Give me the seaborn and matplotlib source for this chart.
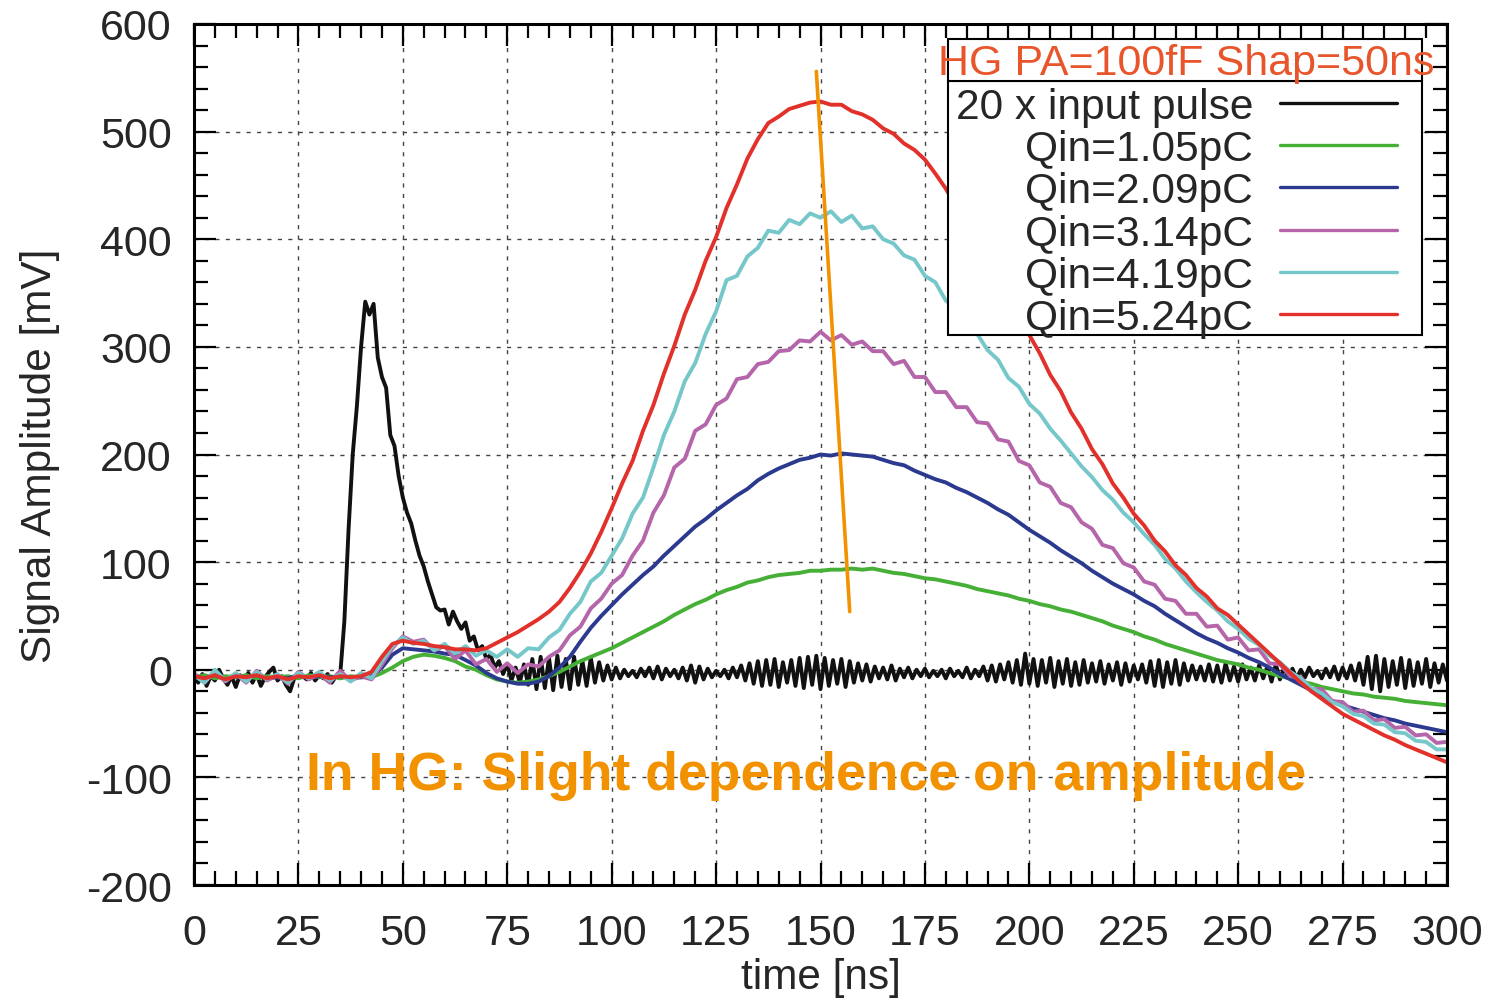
import numpy as np
import pandas as pd
import matplotlib
matplotlib.use("Agg")
import matplotlib.pyplot as plt
import seaborn as sns
from matplotlib.ticker import MultipleLocator
from matplotlib.patches import Rectangle

# ---------------- data ----------------
series_labels = ["20 x input pulse", "Qin=1.05pC", "Qin=2.09pC",
                 "Qin=3.14pC", "Qin=4.19pC", "Qin=5.24pC"]
series_colors = ["#111111", "#46B036", "#2B3A8F", "#B565A9", "#76C7CA", "#E2302A"]
key_title = "HG PA=100fF Shap=50ns"
note_text = "In HG: Slight dependence on amplitude"

# input pulse (x20), sampled every 1 ns from 0 to 300 ns
input_pulse_x20 = [
    -5, -12, -4, -15, -6, -10, 0, -8, -14, -6,
    -16, -5, -9, -3, -12, -4, -15, -7, -2, 2,
    -10, -6, -14, -20, -8, -4, -6, -9, -3, -10,
    -5, -8, -4, -12, -6, -5, 45, 130, 200, 245,
    300, 342, 330, 340, 290, 272, 262, 218, 208, 180,
    160, 146, 136, 120, 106, 96, 82, 70, 58, 55,
    56, 42, 54, 45, 38, 44, 27, 31, 18, 22,
    10, 14, 2, 8, -4, 5, -10, 2, -12, 5,
    -14, 10, -18, 12, -17, 11, -19, 13, -16, 10,
    -18, 12, -14, 8, -15, 11, -12, 7, -10, 4,
    -9, 2, -8, 0, -6, -1, -7, 1, -6, 2,
    -8, 3, -9, 1, -6, 0, -8, 2, -10, 4,
    -12, 3, -9, 1, -7, -1, -6, 0, -8, 2,
    -7, 4, -10, 6, -13, 8, -15, 9, -14, 10,
    -16, 7, -12, 9, -15, 11, -17, 12, -14, 13,
    -18, 11, -15, 9, -13, 10, -16, 8, -12, 6,
    -10, 5, -11, 3, -8, 2, -9, 4, -10, 1,
    -7, 2, -8, 0, -6, 1, -7, -1, -6, 0,
    -8, 1, -6, -1, -7, 2, -8, 0, -6, 3,
    -10, 4, -11, 5, -9, 7, -12, 9, -14, 15,
    -13, 10, -15, 9, -12, 11, -16, 8, -13, 10,
    -15, 7, -14, 9, -12, 6, -11, 8, -13, 5,
    -10, 7, -14, 6, -11, 4, -9, 5, -12, 8,
    -15, 9, -16, 7, -13, 9, -14, 6, -10, 4,
    -9, 3, -10, 5, -11, 4, -12, 6, -10, 3,
    -11, 5, -9, 2, -10, 4, -8, 3, -11, 5,
    -9, 2, -7, 1, -8, 0, -7, 2, -6, -1,
    -8, 1, -7, 3, -9, 2, -8, 4, -10, 6,
    -14, 12, -18, 13, -20, 10, -16, 8, -14, 11,
    -17, 9, -15, 7, -13, 10, -16, 6, -12, 5,
    -10,
]

# shaped outputs, sampled every 2.5 ns from 0 to 300 ns
qin_1p05 = [
    -7, -5, -8, -6, -7, -5, -8, -6, -7, -6,
    -8, -5, -7, -6, -8, -6, -7, -7, -3, 2,
    8, 12, 14, 13, 11, 8, 3, 0, -5, -9,
    -11, -12, -11, -9, -6, -2, 3, 8, 12, 16,
    20, 25, 30, 35, 40, 45, 51, 56, 61, 65,
    70, 74, 77, 81, 83, 86, 88, 89, 90, 92,
    92, 93, 93, 94, 93, 94, 92, 90, 89, 87,
    85, 84, 82, 80, 78, 75, 73, 71, 69, 66,
    64, 61, 59, 56, 54, 51, 48, 45, 41, 38,
    35, 31, 28, 24, 21, 18, 15, 12, 9, 7,
    5, 2, 0, -3, -6, -8, -11, -13, -16, -18,
    -20, -22, -23, -25, -26, -27, -29, -30, -31, -32,
    -33,
]
qin_2p09 = [
    -6, -8, -5, -9, -6, -7, -5, -8, -7, -8,
    -5, -8, -6, -7, -6, -8, -7, -6, 2, 14,
    20, 19, 18, 17, 15, 14, 9, 4, -3, -8,
    -11, -13, -13, -11, -6, 2, 12, 26, 39, 50,
    60, 70, 79, 88, 96, 106, 115, 124, 133, 140,
    148, 155, 162, 168, 176, 182, 187, 191, 195, 197,
    200, 199, 201, 200, 199, 198, 195, 192, 190, 185,
    181, 177, 174, 169, 165, 160, 155, 149, 144, 137,
    130, 124, 118, 111, 105, 99, 92, 86, 80, 75,
    70, 64, 59, 52, 46, 40, 34, 29, 25, 20,
    16, 11, 7, 2, -4, -9, -14, -19, -24, -29,
    -33, -36, -39, -42, -45, -47, -50, -52, -54, -56,
    -58,
]
qin_3p14 = [
    -3, -12, -2, -11, -4, -12, -1, -10, -5, -13,
    -2, -9, -4, -12, -1, -10, -6, -9, 5, 20,
    31, 26, 28, 18, 22, 10, 18, 5, 10, -2,
    6, -3, 5, 3, 12, 18, 32, 40, 57, 66,
    80, 88, 106, 120, 146, 162, 188, 196, 222, 228,
    246, 252, 270, 272, 284, 286, 296, 297, 306, 305,
    314, 306, 311, 302, 305, 296, 296, 284, 287, 272,
    272, 258, 258, 244, 244, 230, 229, 214, 212, 194,
    190, 174, 170, 155, 151, 137, 131, 116, 113, 99,
    95, 82, 79, 66, 64, 52, 52, 40, 41, 28,
    30, 18, 19, 6, 5, -6, -7, -18, -18, -29,
    -30, -39, -38, -47, -46, -54, -53, -61, -60, -68,
    -67,
]
qin_4p19 = [
    -5, -12, 0, -10, -3, -11, -2, -9, -4, -12,
    -3, -8, -2, -10, -4, -11, -3, -8, 8, 22,
    30, 24, 27, 18, 24, 15, 22, 13, 18, 12,
    19, 12, 20, 19, 30, 37, 52, 63, 82, 90,
    106, 122, 145, 160, 188, 218, 240, 268, 285, 312,
    333, 362, 366, 384, 392, 408, 406, 418, 414, 424,
    420, 426, 416, 422, 410, 412, 400, 396, 385, 381,
    366, 360, 343, 336, 320, 312, 297, 288, 271, 263,
    247, 238, 224, 213, 201, 189, 179, 167, 158, 146,
    137, 126, 116, 103, 94, 82, 72, 63, 55, 45,
    38, 29, 23, 13, 7, -2, -8, -17, -22, -30,
    -34, -41, -43, -50, -51, -58, -59, -66, -67, -74,
    -74,
]
qin_5p24 = [
    -6, -8, -5, -9, -6, -7, -5, -8, -6, -9,
    -6, -7, -5, -8, -6, -7, -6, -2, 12, 24,
    27, 25, 24, 22, 21, 19, 19, 18, 20, 25,
    30, 35, 41, 47, 54, 63, 76, 91, 108, 128,
    150, 173, 194, 222, 246, 275, 301, 330, 353, 380,
    402, 429, 451, 475, 493, 508, 514, 521, 524, 527,
    528, 525, 525, 519, 516, 511, 503, 498, 489, 483,
    474, 461, 447, 430, 416, 399, 386, 367, 351, 330,
    311, 294, 274, 259, 239, 224, 205, 191, 173, 160,
    145, 134, 120, 110, 97, 88, 76, 68, 57, 51,
    42, 33, 24, 15, 6, -3, -12, -20, -27, -34,
    -41, -46, -51, -56, -61, -65, -70, -74, -78, -82,
    -86,
]

# orange guide line through the peak positions
peak_guide_time = [149, 157]
peak_guide_amp = [556, 54]

# ---------------- build table ----------------
time_pulse = np.arange(0, 301, 1.0)
time_shaped = np.arange(0, 300.1, 2.5)
shaped = [qin_1p05, qin_2p09, qin_3p14, qin_4p19, qin_5p24]
assert len(input_pulse_x20) == len(time_pulse)
for s in shaped:
    assert len(s) == len(time_shaped), len(s)

frames = [pd.DataFrame({"time": time_pulse, "amp": input_pulse_x20,
                        "series": series_labels[0]})]
for lab, vals in zip(series_labels[1:], shaped):
    frames.append(pd.DataFrame({"time": time_shaped, "amp": vals, "series": lab}))
df = pd.concat(frames, ignore_index=True)

# ---------------- style ----------------
sns.set_style("ticks")
plt.rcParams["font.family"] = ["Liberation Sans", "DejaVu Sans"]
plt.rcParams["axes.unicode_minus"] = False

fig = plt.figure(figsize=(14.95, 10.03), dpi=100)
ax = fig.add_axes([194 / 1495, 117 / 1003, 1253 / 1495, 861 / 1003])

sns.lineplot(data=df, x="time", y="amp", hue="series", hue_order=series_labels,
             palette=dict(zip(series_labels, series_colors)), estimator=None,
             sort=False, linewidth=2.8, legend=False, ax=ax)
sns.lineplot(x=peak_guide_time, y=peak_guide_amp, color="#F39200",
             linewidth=2.6, estimator=None, sort=False, ax=ax)

ax.set_xlim(0, 300)
ax.set_ylim(-200, 600)
ax.xaxis.set_major_locator(MultipleLocator(25))
ax.xaxis.set_minor_locator(MultipleLocator(5))
ax.yaxis.set_major_locator(MultipleLocator(100))
ax.yaxis.set_minor_locator(MultipleLocator(20))
ax.tick_params(which="both", direction="in", top=True, right=True,
               width=1.6, color="black")
ax.tick_params(which="major", length=16)
ax.tick_params(which="minor", length=10)
ax.tick_params(axis="x", which="major", labelsize=31, pad=20)
ax.tick_params(axis="y", which="major", labelsize=31, pad=16)
ax.grid(True, which="major", linestyle=(0, (3, 4.5)), color="#444444", linewidth=1.0)
ax.set_axisbelow(True)
for sp in ax.spines.values():
    sp.set_linewidth(2.2)
    sp.set_color("black")

ax.set_xlabel("time [ns]", fontsize=30.5, labelpad=3)
ax.set_ylabel("Signal Amplitude [mV]", fontsize=30.5, labelpad=19)

# key: entries (text right-aligned, sample line at right), two framed boxes
leg = ax.legend(handles=ax.lines[:6], labels=series_labels, loc="upper right",
                bbox_to_anchor=((1397 - 194) / 1253, (886 - 87.6) / 861),
                bbox_transform=ax.transAxes, borderaxespad=0, borderpad=0,
                markerfirst=False, fontsize=30.6, handlelength=2.75,
                handletextpad=0.635, labelspacing=0.055, frameon=False)
for h in leg.legend_handles:
    h.set_linewidth(2.4)
box_x0 = (948 - 194) / 1253
box_x1 = (1422 - 194) / 1253
key_y0 = (886 - 336) / 861
key_y1 = (886 - 82) / 861
title_y1 = (886 - 40) / 861
ax.add_patch(Rectangle((box_x0, key_y0), box_x1 - box_x0, key_y1 - key_y0,
                       transform=ax.transAxes, facecolor="white", ec="black",
                       lw=1.5, clip_on=False, zorder=4.5))
ax.add_patch(Rectangle((box_x0, key_y1), box_x1 - box_x0, title_y1 - key_y1,
                       transform=ax.transAxes, facecolor="white", ec="black",
                       lw=1.5, clip_on=False, zorder=4.5))
ax.text((1186 - 194) / 1253, (886 - 75) / 861, key_title, transform=ax.transAxes,
        ha="center", va="baseline", fontsize=31, color="#E9552B", zorder=7)

ax.text(146.6, -110.8, note_text, ha="center", va="baseline", fontsize=38.5,
        fontweight="bold", color="#F39200", zorder=8)

fig.savefig("out.png", dpi=100)
